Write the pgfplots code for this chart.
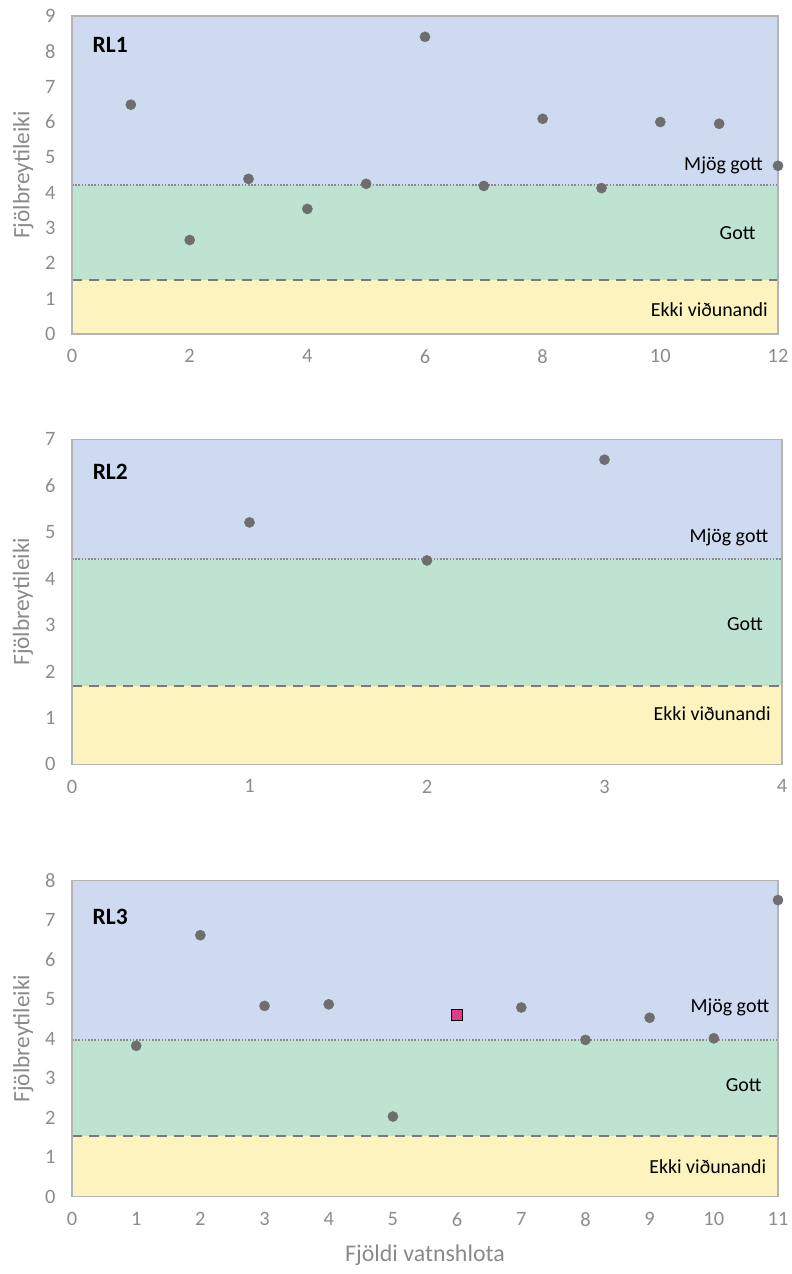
\documentclass[border=0pt]{standalone}
\usepackage{pgfplots}
\pgfplotsset{compat=1.18}
\usepackage{fontspec}
\setmainfont{Carlito}
\definecolor{bandblue}{HTML}{CDDAF0}
\definecolor{bandgreen}{HTML}{BEE3D0}
\definecolor{bandyellow}{HTML}{FCF3BE}
\definecolor{framegray}{HTML}{B4B4B4}
\definecolor{tickgray}{HTML}{8C8C8C}
\definecolor{labelgray}{HTML}{8A8A8A}
\definecolor{ptgray}{HTML}{6E6E6E}
\definecolor{dashgray}{HTML}{7A7A7A}
\definecolor{dotgray}{HTML}{8A8A8A}
\definecolor{pinksq}{HTML}{E03C8C}
\tikzset{
  bandlab/.style={anchor=east, inner sep=0pt, font=\fontsize{20}{22}\selectfont, text=black},
  rllab/.style={anchor=west, inner sep=0pt, font=\fontsize{23.5}{25}\selectfont\bfseries, text=black},
}
\begin{document}
\begin{tikzpicture}
\useasboundingbox (0bp,0bp) rectangle (792bp,1274bp);
\pgfplotsset{
  panel/.style={
    scale only axis, anchor=south west, axis on top, clip=false,
    axis line style={draw=framegray, line width=1.2bp},
    major tick length=0pt,
    tick label style={text=tickgray, font=\fontsize{20.5}{22}\selectfont},
    /pgf/number format/assume math mode=true,
    yticklabel style={xshift=-13bp},
    xticklabel style={yshift=-12bp},
    ylabel={Fjölbreytileiki},
    ylabel style={text=labelgray, font=\fontsize{23.5}{26}\selectfont, at={(axis description cs:-0.069,0.5)}, anchor=center},
    ymin=0, xmin=0,
  },
  band/.style={draw=none, fill=#1, forget plot},
  dotline/.style={draw=dotgray, line width=1.6bp, dash pattern=on 1.5bp off 1.7bp},
  dashline/.style={draw=dashgray, line width=2.6bp, dash pattern=on 10bp off 7bp},
  pts/.style={only marks, mark=*, mark size=5.1bp, mark options={fill=ptgray, draw=ptgray}},
}
% ---------------- RL1 ----------------
\begin{axis}[panel, at={(72bp,940bp)}, width=706bp, height=318bp,
  xmax=12, ymax=9, xtick={0,2,...,12}, ytick={0,1,...,9}]
\addplot[band=bandyellow] coordinates {(0,0) (0,1.53) (12,1.53) (12,0)} -- cycle;
\addplot[band=bandgreen] coordinates {(0,1.53) (0,4.22) (12,4.22) (12,1.53)} -- cycle;
\addplot[band=bandblue] coordinates {(0,4.22) (0,9) (12,9) (12,4.22)} -- cycle;
\addplot[dotline] coordinates {(0,4.22) (12,4.22)};
\addplot[dashline] coordinates {(0,1.53) (12,1.53)};
\addplot[pts] coordinates {(1,6.49) (2,2.66) (3,4.39) (4,3.54) (5,4.25) (6,8.41) (7,4.19) (8,6.09) (9,4.13) (10,6.00) (11,5.95) (12,4.76)};
\node[rllab] at (rel axis cs:0.029,0.909) {RL1};
\node[bandlab] at (axis cs:11.745,4.76) {Mjög gott};
\node[bandlab] at (axis cs:11.62,2.85) {Gott};
\node[bandlab] at (axis cs:11.83,0.68) {Ekki viðunandi};
\end{axis}
% ---------------- RL2 ----------------
\begin{axis}[panel, at={(72bp,509.7bp)}, width=710bp, height=325bp,
  xmax=4, ymax=7, xtick={0,1,...,4}, ytick={0,1,...,7}]
\addplot[band=bandyellow] coordinates {(0,0) (0,1.69) (4,1.69) (4,0)} -- cycle;
\addplot[band=bandgreen] coordinates {(0,1.69) (0,4.42) (4,4.42) (4,1.69)} -- cycle;
\addplot[band=bandblue] coordinates {(0,4.42) (0,7) (4,7) (4,4.42)} -- cycle;
\addplot[dotline] coordinates {(0,4.42) (4,4.42)};
\addplot[dashline] coordinates {(0,1.69) (4,1.69)};
\addplot[pts] coordinates {(1,5.21) (2,4.39) (3,6.56)};
\node[rllab] at (rel axis cs:0.029,0.90) {RL2};
\node[bandlab] at (axis cs:3.923,4.88) {Mjög gott};
\node[bandlab] at (axis cs:3.893,3.02) {Gott};
\node[bandlab] at (axis cs:3.937,1.08) {Ekki viðunandi};
\end{axis}
% ---------------- RL3 ----------------
\begin{axis}[panel, at={(72bp,77.3bp)}, width=706bp, height=316bp,
  xmax=11, ymax=8, xtick={0,1,...,11}, ytick={0,1,...,8},
  xlabel={Fjöldi vatnshlota},
  xlabel style={text=labelgray, font=\fontsize{24}{26}\selectfont, at={(axis description cs:0.5,-0.184)}, anchor=center}]
\addplot[band=bandyellow] coordinates {(0,0) (0,1.54) (11,1.54) (11,0)} -- cycle;
\addplot[band=bandgreen] coordinates {(0,1.54) (0,3.97) (11,3.97) (11,1.54)} -- cycle;
\addplot[band=bandblue] coordinates {(0,3.97) (0,8) (11,8) (11,3.97)} -- cycle;
\addplot[dotline] coordinates {(0,3.97) (11,3.97)};
\addplot[dashline] coordinates {(0,1.54) (11,1.54)};
\addplot[pts] coordinates {(1,3.82) (2,6.62) (3,4.83) (4,4.87) (5,2.03) (7,4.79) (8,3.97) (9,4.53) (10,4.01) (11,7.51)};
\addplot[only marks, mark=square*, mark size=5.3bp, mark options={fill=pinksq, draw=black, line width=0.8bp}] coordinates {(6,4.60)};
\node[rllab] at (rel axis cs:0.029,0.885) {RL3};
\node[bandlab] at (axis cs:10.865,4.79) {Mjög gott};
\node[bandlab] at (axis cs:10.746,2.83) {Gott};
\node[bandlab] at (axis cs:10.82,0.75) {Ekki viðunandi};
\end{axis}
\end{tikzpicture}
\end{document}
